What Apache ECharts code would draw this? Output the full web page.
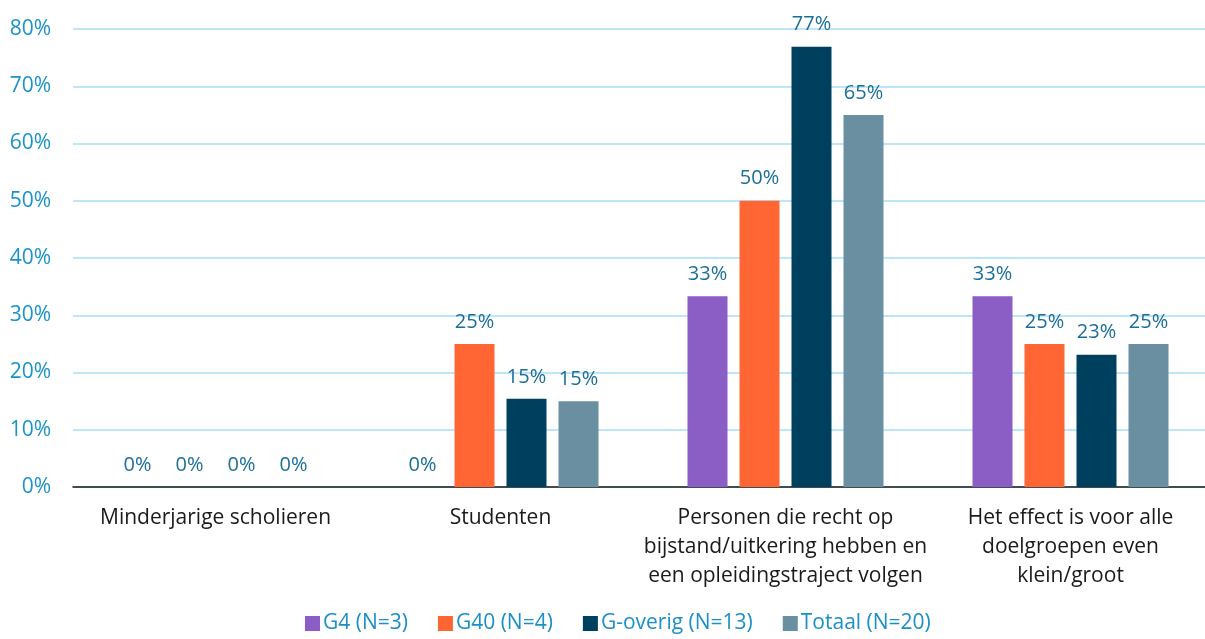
<!DOCTYPE html>
<html>
<head>
<meta charset="utf-8">
<script src="https://cdn.jsdelivr.net/npm/echarts@6/dist/echarts.min.js"></script>
<style>
  html, body { margin: 0; padding: 0; background: #fff; }
  #chart { width: 1205px; height: 639px; }
</style>
</head>
<body>
<div id="chart"></div>
<script>
const categories = [
  'Minderjarige scholieren',
  'Studenten',
  'Personen die recht op\nbijstand/uitkering hebben en\neen opleidingstraject volgen',
  'Het effect is voor alle\ndoelgroepen even\nklein/groot'
]
const seriesNames = ['G4 (N=3)', 'G40 (N=4)', 'G-overig (N=13)', 'Totaal (N=20)']
const g4 = [0, 0, 33.3, 33.3]
const g40 = [0, 25, 50, 25]
const gOverig = [0, 15.4, 76.9, 23.1]
const totaal = [0, 15, 65, 25]
const colorList = ['#8a5ec4', '#ff6633', '#00405f', '#6a8fa1']

const font = '"Open Sans", "Noto Sans", sans-serif'
const values = [g4, g40, gOverig, totaal]

const series = values.map((data, index) => {
  return {
    name: seriesNames[index],
    type: 'bar',
    data: data,
    barWidth: 40,
    barGap: '30%',
    itemStyle: { color: colorList[index] },
    label: {
      show: true,
      position: 'top',
      distance: 12,
      color: '#1b6e99',
      fontSize: 20,
      fontFamily: font,
      formatter: p => Math.round(p.value) + '%'
    }
  }
})

const myChart = echarts.init(document.getElementById('chart'))
const option = {
  animation: false,
  textStyle: { fontFamily: font },
  grid: { left: 73, width: 1140, top: 29, bottom: 152, outerBoundsMode: 'none', containLabel: false },
  legend: {
    bottom: 0,
    left: 300,
    itemWidth: 15,
    itemHeight: 15,
    itemGap: 30,
    itemStyle: { borderWidth: 0 },
    icon: 'rect',
    textStyle: { color: '#1a8fc8', fontSize: 21, fontFamily: font, padding: [0, 0, 0, -2] },
    data: seriesNames
  },
  xAxis: {
    type: 'category',
    data: categories,
    axisLine: { lineStyle: { color: '#1a1a1a', width: 1.5 } },
    axisTick: { show: false },
    axisLabel: {
      color: '#1a1a1a',
      fontSize: 21,
      fontFamily: font,
      lineHeight: 29,
      margin: 17,
      interval: 0
    }
  },
  yAxis: {
    type: 'value',
    min: 0,
    max: 80,
    interval: 10,
    axisLine: { show: false },
    axisTick: { show: false },
    splitLine: { lineStyle: { color: '#bde7f8', width: 2 } },
    axisLabel: {
      color: '#1a93cc',
      fontSize: 21,
      fontFamily: font,
      margin: 22,
      formatter: '{value}%'
    }
  },
  series: series
}
myChart.setOption(option)
</script>
</body>
</html>
